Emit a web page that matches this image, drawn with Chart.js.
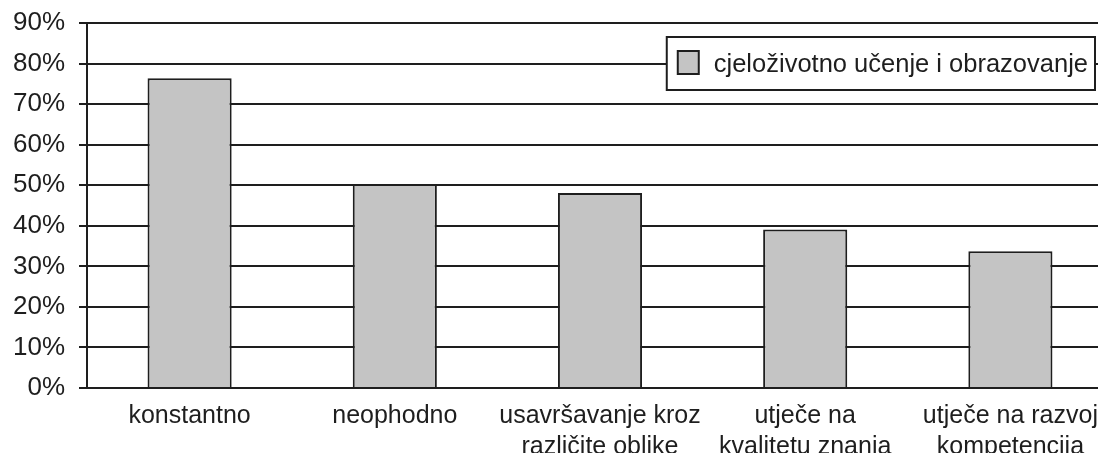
<!DOCTYPE html>
<html>
<head>
<meta charset="utf-8">
<script src="https://cdn.jsdelivr.net/npm/chart.js@4.4.0/dist/chart.umd.min.js"></script>
<style>
  html, body { margin: 0; padding: 0; background: #fff; overflow: hidden; }
  #wrap { width: 1113px; height: 453px; position: relative; }
</style>
</head>
<body>
<div id="wrap"><canvas id="c"></canvas></div>
<script>
const categories = [
  'konstantno',
  'neophodno',
  ['usavršavanje kroz', 'različite oblike'],
  ['utječe na', 'kvalitetu znanja'],
  ['utječe na razvoj', 'kompetencija']
];
const seriesName = 'cjeloživotno učenje i obrazovanje';
const seriesValues = [76.4, 50.3, 48.1, 39.1, 33.7];
const yTicks = { min: 0, max: 90, step: 10 };

const INK = '#1e1e1e';
const FILL = '#c4c4c4';
const FONT = "'Liberation Sans', Arial, Helvetica, sans-serif";

const boxLegend = {
  id: 'boxLegend',
  afterDraw(chart) {
    const ctx = chart.ctx;
    ctx.save();
    ctx.font = '25.5px ' + FONT;
    const tw = ctx.measureText(seriesName).width;
    const right = 1095, top = 37, h = 53;
    const left = right - (47 + tw + 7);
    ctx.fillStyle = '#fff';
    ctx.fillRect(left, top, right - left, h);
    ctx.lineWidth = 2;
    ctx.strokeStyle = INK;
    ctx.strokeRect(left, top, right - left, h);
    ctx.fillStyle = FILL;
    ctx.fillRect(left + 11, top + 14, 21, 23);
    ctx.strokeRect(left + 11, top + 14, 21, 23);
    ctx.fillStyle = INK;
    ctx.textBaseline = 'middle';
    ctx.fillText(seriesName, left + 47, top + h / 2 + 1);
    ctx.restore();
  }
};

new Chart(document.getElementById('c'), {
  type: 'bar',
  data: {
    labels: categories,
    datasets: [{
      label: seriesName,
      data: seriesValues,
      backgroundColor: FILL,
      borderColor: INK,
      borderWidth: 2,
      categoryPercentage: 1,
      barPercentage: 0.41
    }]
  },
  options: {
    responsive: true,
    maintainAspectRatio: false,
    animation: false,
    layout: { padding: { top: 23, left: 0, right: 0, bottom: 0 } },
    plugins: { legend: { display: false }, tooltip: { enabled: false } },
    scales: {
      x: {
        grid: { display: false },
        border: { display: true, color: INK, width: 2 },
        ticks: {
          color: INK,
          font: { family: FONT, size: 25, lineHeight: 1.22 },
          padding: 5,
          maxRotation: 0,
          autoSkip: false
        },
        afterFit(s) { s.height = 65; s.paddingLeft = 0; s.paddingRight = 0; }
      },
      y: {
        min: yTicks.min,
        max: yTicks.max,
        ticks: {
          stepSize: yTicks.step,
          color: INK,
          font: { family: FONT, size: 26 },
          padding: 14,
          callback: v => v + '%'
        },
        grid: { color: INK, lineWidth: 2, tickLength: 8, tickColor: INK },
        border: { display: true, color: INK, width: 2 },
        afterFit(s) { s.width = 87; s.paddingTop = 0; s.paddingBottom = 0; }
      }
    }
  },
  plugins: [boxLegend]
});
</script>
</body>
</html>
